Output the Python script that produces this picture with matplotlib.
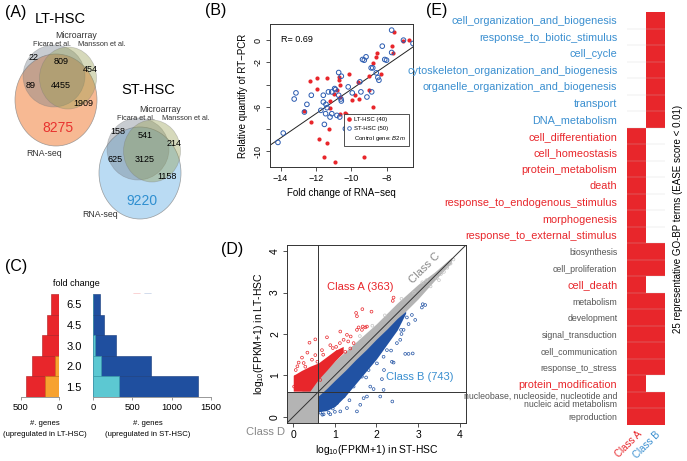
import numpy as np
import matplotlib
matplotlib.use("Agg")
import matplotlib.pyplot as plt
import matplotlib.patches as mpatches
from matplotlib.colors import ListedColormap
from matplotlib.lines import Line2D

plt.rcParams["font.family"] = ["Liberation Sans", "DejaVu Sans"]
plt.rcParams["mathtext.fontset"] = "custom"
plt.rcParams["mathtext.rm"] = "Liberation Sans"
plt.rcParams["mathtext.it"] = "Liberation Sans:italic"
plt.rcParams["mathtext.default"] = "regular"

W, H = 687, 461

RED = "#e8262b"
BLUE = "#1f4f9f"
ORANGE = "#f7a230"
CYAN = "#5cc8d2"
LBLUE = "#3a8fd0"
GRAYTXT = "#555555"

# ---- (A) Venn counts -------------------------------------------------------
LT_COUNTS = [22, 809, 454, 89, 4455, 1909, 8275]
ST_COUNTS = [158, 541, 214, 625, 3125, 1158, 9220]

# ---- (B) RT-PCR vs RNA-seq -------------------------------------------------
LT_FC = [-7.58, -7.71, -6.75, -7.08, -7.62, -8.55, -8.62, -8.33, -8.78, -8.97,
         -9.59, -9.55, -9.01, -8.74, -9.80, -9.98, -10.13, -10.71, -10.67, -10.65,
         -10.83, -10.62, -10.98, -11.39, -11.91, -12.32, -11.91, -12.30, -12.70, -11.20,
         -11.20, -10.62, -10.29, -10.33, -11.23, -11.83, -11.35, -11.54, -10.91, -9.26]
LT_RQ = [0.75, -0.54, 0.00, -0.06, -1.14, -1.14, -1.56, -3.00, -2.01, -3.24,
         -3.75, -5.32, -4.50, -6.01, -4.92, -5.41, -3.00, -3.30, -3.60, -4.02,
         -4.50, -5.11, -4.86, -3.36, -3.36, -3.66, -4.35, -7.36, -6.37, -5.47,
         -6.10, -6.61, -6.67, -6.55, -7.96, -8.86, -9.25, -10.51, -10.96, -10.51]
ST_FC = [-7.71, -7.04, -6.50, -8.24, -7.71, -8.10, -8.00, -9.16, -9.26, -9.36,
         -8.87, -8.78, -8.58, -8.49, -8.43, -9.51, -9.45, -8.84, -9.11, -9.94,
         -10.17, -10.71, -10.56, -10.94, -10.89, -10.71, -10.56, -10.58, -11.10, -11.29,
         -11.58, -11.58, -11.43, -11.37, -11.72, -11.45, -11.10, -10.81, -10.65, -11.20,
         -12.26, -13.13, -13.23, -12.51, -12.65, -11.52, -10.33, -10.17, -13.85, -14.15]
ST_RQ = [0.90, 0.00, -0.30, -0.54, -1.11, -1.74, -1.80, -1.50, -1.80, -1.74,
         -2.49, -2.49, -2.94, -3.36, -3.60, -3.75, -4.65, -4.65, -5.11, -4.74,
         -4.20, -2.91, -3.24, -4.35, -4.44, -4.95, -5.47, -5.29, -4.65, -4.65,
         -4.95, -5.56, -5.77, -6.07, -6.31, -6.61, -6.61, -6.76, -6.91, -6.91,
         -4.95, -4.74, -5.29, -5.77, -6.46, -7.57, -7.96, -8.26, -8.35, -9.19]
FIT_SLOPE, FIT_INTERCEPT = 1.09, 6.47
R_VALUE = 0.69

# ---- (C) fold change histogram ---------------------------------------------
FOLD = ["1.5", "2.0", "3.0", "4.5", "6.5"]
LT_RNASEQ = [435, 361, 230, 152, 100]
LT_ARRAY = [178, 48, 0, 0, 0]
ST_RNASEQ = [1333, 735, 290, 141, 85]
ST_ARRAY = [333, 107, 21, 0, 0]

# ---- (D) scatter envelopes and outliers -----------------------------------
GRAY_X = [-0.15, 0.2, 0.6, 0.62, 1.0, 1.5, 2.0, 2.5, 3.0, 3.4, 3.8]
GRAY_LO = [-0.15, -0.15, -0.15, 0.3, 0.75, 1.3, 1.8, 2.35, 2.85, 3.3, 3.72]
GRAY_HI = [0.6, 0.62, 0.95, 0.98, 1.35, 1.8, 2.25, 2.75, 3.2, 3.5, 3.85]
BLUE_X = [0.6, 0.8, 1.0, 1.25, 1.5, 1.75, 2.0, 2.25, 2.5, 2.7]
BLUE_LO = [0.12, 0.15, 0.25, 0.5, 0.8, 1.1, 1.4, 1.75, 2.1, 2.5]
BLUE_HI = [0.5, 0.68, 0.88, 1.12, 1.38, 1.62, 1.88, 2.12, 2.38, 2.55]
RED_X = [0.0, 0.2, 0.4, 0.6, 0.8, 1.0, 1.2]
RED_LO = [0.62, 0.62, 0.62, 0.9, 1.12, 1.35, 1.55]
RED_HI = [1.0, 1.12, 1.22, 1.3, 1.45, 1.6, 1.7]

A_PTS_X = [2.41, 2.39, 1.88, 1.66, 1.51, 1.53, 1.67, 1.73, 1.77, 1.65,
           0.53, 0.39, 0.81, 1.13, 1.29, 1.38, 1.45, 1.03, 0.89, 0.69,
           1.21, 1.06, 0.34, 0.21, 0.13, 0.06, 0.06, 0.17, 0.41, 0.65,
           0.81, 0.58, 0.53, 0.29, 0.89, 1.25, 1.37, 1.53, 1.57, 0.02, 0.13,
           0.25, 0.45, 0.1, 0.72, 0.95, 1.12, 1.32]
A_PTS_Y = [2.88, 2.80, 2.54, 2.60, 2.51, 2.43, 2.18, 2.16, 2.18, 2.10,
           1.87, 1.79, 1.92, 2.06, 1.98, 1.94, 1.78, 1.69, 1.73, 1.61,
           1.86, 1.57, 1.55, 1.43, 1.31, 1.13, 0.97, 0.85, 0.85, 0.89,
           1.25, 1.33, 1.49, 1.21, 1.41, 1.57, 1.65, 2.10, 2.16, 0.73, 0.69,
           1.3, 1.38, 1.22, 1.5, 1.66, 1.78, 1.82]
B_PTS_X = [3.11, 3.17, 3.09, 2.85, 2.93, 2.73, 2.77, 2.65, 2.59, 2.87,
           2.77, 2.69, 2.37, 2.41, 2.18, 2.13, 1.85, 1.93, 2.17, 2.38,
           1.77, 1.61, 1.29, 1.13, 0.89, 0.73, 0.65, 1.53, 1.69, 1.65,
           2.17, 2.49, 2.57, 2.25, 2.01, 1.81, 1.45, 1.21, 1.05, 2.09,
           0.7, 0.85, 1.0, 0.95, 1.35, 1.75, 2.35, 2.6]
B_PTS_Y = [2.72, 2.70, 2.64, 2.46, 2.34, 2.40, 2.24, 2.10, 2.10, 1.53,
           1.52, 1.52, 1.33, 1.31, 1.13, 0.91, 0.73, 0.67, 0.65, 0.37,
           0.49, 0.29, 0.21, 0.13, 0.06, 0.06, 0.10, 0.13, 0.45, 0.97,
           1.45, 1.78, 1.86, 1.61, 1.29, 1.13, 0.73, 0.49, 0.33, 0.49,
           0.05, 0.1, 0.12, 0.2, 0.4, 0.95, 1.6, 2.0]
C_PTS_X = [3.3, 3.45, 3.55, 3.62, 3.7, 3.78, 3.85, 3.5, 3.2, 3.1, 2.9, 2.6, 2.2, 1.9, 1.6]
C_PTS_Y = [3.15, 3.35, 3.45, 3.5, 3.6, 3.7, 3.8, 3.3, 3.3, 3.25, 3.0, 2.85, 2.45, 2.2, 1.95]

# ---- (E) GO terms ----------------------------------------------------------
GO_TERMS = ["cell_organization_and_biogenesis", "response_to_biotic_stimulus", "cell_cycle",
            "cytoskeleton_organization_and_biogenesis", "organelle_organization_and_biogenesis",
            "transport", "DNA_metabolism", "cell_differentiation", "cell_homeostasis",
            "protein_metabolism", "death", "response_to_endogenous_stimulus", "morphogenesis",
            "response_to_external_stimulus", "biosynthesis", "cell_proliferation", "cell_death",
            "metabolism", "development", "signal_transduction", "cell_communication",
            "response_to_stress", "protein_modification",
            "nucleobase, nucleoside, nucleotide and\nnucleic acid metabolism", "reproduction"]
CLASS_A = [0, 0, 0, 0, 0, 0, 0, 1, 1, 1, 1, 1, 1, 1, 1, 1, 1, 1, 1, 1, 1, 1, 1, 1, 1]
CLASS_B = [1, 1, 1, 1, 1, 1, 1, 0, 0, 0, 0, 0, 0, 0, 1, 1, 0, 1, 1, 1, 1, 1, 0, 1, 1]
TERM_GROUP = ["B"] * 7 + ["A"] * 7 + ["n", "n", "A", "n", "n", "n", "n", "n", "A", "n", "n"]


def px_axes(fig, l, t, r, b):
    return fig.add_axes([l / W, 1 - b / H, (r - l) / W, (b - t) / H])


def r_style(ax):
    for s in ax.spines.values():
        s.set_linewidth(0.7)
        s.set_color("#333333")
    ax.tick_params(length=3, width=0.6, color="#333333", labelsize=7, pad=2)


fig = plt.figure(figsize=(W / 100, H / 100), dpi=100)

# overlay in pixel coordinates for Venn diagrams and panel letters
ov = fig.add_axes([0, 0, 1, 1])
ov.set_xlim(0, W)
ov.set_ylim(H, 0)
ov.axis("off")

for lab, x, y in [("(A)", 5, 12), ("(B)", 205, 11), ("(C)", 5, 266),
                  ("(D)", 221, 249), ("(E)", 426, 11)]:
    ov.text(x, y, lab, fontsize=11.5, va="center", ha="left")

# ---- (A) -------------------------------------------------------------------
def venn(cx, cy, base_col, counts, big_col):
    ov.add_patch(mpatches.Ellipse((cx, cy + 22), 82, 92, fc=base_col, ec="#888888", lw=0.5, alpha=0.8))
    ov.add_patch(mpatches.Ellipse((cx - 2, cy - 2), 62, 62, fc="#6f7a86", ec="#777777", lw=0.5, alpha=0.38))
    ov.add_patch(mpatches.Ellipse((cx + 12, cy), 57, 62, fc="#949d4c", ec="#777777", lw=0.5, alpha=0.38))
    pos = [(-22, -20), (5, -16), (34, -8), (-25, 8), (5, 8), (27, 25)]
    for (dx, dy), n in zip(pos, counts[:6]):
        ov.text(cx + dx, cy + dy, str(n), fontsize=6.5, ha="center", va="center")
    ov.text(cx + 2, cy + 50, str(counts[6]), fontsize=10, color=big_col, ha="center", va="center")
    ov.text(cx + 20, cy - 42, "Microarray", fontsize=6.3, ha="center", va="center", color="#333333")
    ov.text(cx - 4, cy - 33, "Ficara et al.", fontsize=5.3, ha="center", va="center", color="#333333")
    ov.text(cx + 46, cy - 33, "Mansson et al.", fontsize=5.3, ha="center", va="center", color="#333333")


ov.text(60, 19, "LT-HSC", fontsize=10.5, ha="center", va="center")
venn(56, 78, "#f6a878", LT_COUNTS, "#e8332f")
ov.text(44, 153, "RNA-seq", fontsize=6.3, ha="center", va="center", color="#333333")
ov.text(148, 90, "ST-HSC", fontsize=10.5, ha="center", va="center")
venn(140, 151, "#a9d3f0", ST_COUNTS, "#2f8fd0")
ov.text(100, 214, "RNA-seq", fontsize=6.3, ha="center", va="center", color="#333333")

# ---- (B) -------------------------------------------------------------------
axb = px_axes(fig, 270, 24, 413, 167)
axb.scatter(LT_FC, LT_RQ, s=9, color=RED, lw=0, zorder=3)
axb.scatter(ST_FC, ST_RQ, s=11, facecolors="none", edgecolors="#2b5bb0", lw=0.7, zorder=3)
axb.axline((0, FIT_INTERCEPT), slope=FIT_SLOPE, color="#222222", lw=0.7)
axb.set_xlim(-14.6, -6.5)
axb.set_ylim(-11.4, 1.45)
axb.set_xticks([-14, -12, -10, -8])
axb.set_yticks([0, -2, -4, -6, -8, -10])
axb.set_yticklabels(["0", "-2", "", "-6", "", "-10"])
r_style(axb)
axb.tick_params(labelsize=6.5)
axb.tick_params(axis="y", labelrotation=90)
for t in axb.get_yticklabels():
    t.set_va("center")
axb.set_xlabel("Fold change of RNA\u2212seq", fontsize=7, labelpad=4)
axb.set_ylabel("Relative quantify of RT\u2212PCR", fontsize=7, labelpad=4)
axb.text(0.08, 0.89, f"R= {R_VALUE}", transform=axb.transAxes, fontsize=6.5, va="center")
hl = [Line2D([], [], ls="none", marker="o", ms=2.3, color=RED),
      Line2D([], [], ls="none", marker="o", ms=2.6, mfc="none", mec="#2b5bb0", mew=0.6),
      Line2D([], [], ls="none")]
leg = axb.legend(hl, ["LT-HSC (40)", "ST-HSC (50)", "Control gene: $\\it{B2m}$"],
                 loc="lower right", bbox_to_anchor=(0.97, 0.145), fontsize=4.3,
                 fancybox=False, edgecolor="#333333", framealpha=1, handlelength=0.6,
                 handletextpad=0.5, borderpad=0.5, labelspacing=0.6, borderaxespad=0)
leg.get_frame().set_linewidth(0.6)

# ---- (C) -------------------------------------------------------------------
ypos = np.arange(len(FOLD))
axl = px_axes(fig, 21, 294, 59, 397)
axl.barh(ypos, LT_RNASEQ, height=1.0, color=RED, edgecolor="#b01a1e", lw=0.4)
axl.barh(ypos, LT_ARRAY, height=1.0, color=ORANGE, edgecolor="#c07818", lw=0.4)
axl.set_xlim(500, 0)
axr = px_axes(fig, 93, 294, 211, 397)
axr.barh(ypos, ST_RNASEQ, height=1.0, color=BLUE, edgecolor="#15397a", lw=0.4)
axr.barh(ypos, ST_ARRAY, height=1.0, color=CYAN, edgecolor="#3aa0aa", lw=0.4)
axr.set_xlim(0, 1500)
for ax in (axl, axr):
    ax.set_ylim(-0.5, 4.5)
    for s in ("top", "left", "right"):
        ax.spines[s].set_visible(False)
    ax.spines["bottom"].set_color("#888888")
    ax.spines["bottom"].set_linewidth(0.6)
    ax.tick_params(axis="x", length=2.5, width=0.6, color="#888888", labelsize=6.8, pad=2)
axl.set_xticks([500, 0])
axl.set_yticks([])
axr.set_xticks([0, 500, 1000, 1500])
axr.set_yticks(ypos)
axr.set_yticklabels(FOLD, fontsize=8)
axr.tick_params(axis="y", length=0, pad=8)
ov.text(45, 423, "#. genes", fontsize=5.6, ha="center", va="center")
ov.text(45, 434, "(upregulated in LT-HSC)", fontsize=5.6, ha="center", va="center")
ov.text(148, 423, "#. genes", fontsize=5.6, ha="center", va="center")
ov.text(148, 434, "(upregulated in ST-HSC)", fontsize=5.6, ha="center", va="center")
ov.text(76, 283, "fold change", fontsize=6.5, ha="center", va="center")
for x0, col in [(133, RED), (144, BLUE)]:
    ov.add_patch(mpatches.Rectangle((x0, 294), 7, 7, color=col))
for x0, col in [(133, ORANGE), (144, CYAN)]:
    ov.add_patch(mpatches.Rectangle((x0, 309), 7, 7, color=col))
ov.text(156, 298, "RNA-seq", fontsize=5, va="center")
ov.text(156, 313, "Microarray", fontsize=5, va="center")
ov.text(156, 322.5, "(Forsberg et al.)", fontsize=5, va="center")

# ---- (D) -------------------------------------------------------------------
axd = px_axes(fig, 287, 245, 466, 423)
axd.fill_between(GRAY_X, GRAY_LO, GRAY_HI, color="#b4b4b4", lw=0)
axd.scatter(C_PTS_X, C_PTS_Y, s=4, facecolors="none", edgecolors="#c4c4c4", lw=0.5)
axd.fill_between(BLUE_X, BLUE_LO, BLUE_HI, color="#2152a3", lw=0)
axd.fill_between(RED_X, RED_LO, RED_HI, color="#e8262b", lw=0)
axd.scatter(A_PTS_X, A_PTS_Y, s=4, facecolors="none", edgecolors="#e8262b", lw=0.5)
axd.scatter(B_PTS_X, B_PTS_Y, s=4, facecolors="none", edgecolors="#2152a3", lw=0.5)
axd.axline((0, 0), slope=1, color="#333333", lw=0.7)
axd.axvline(0.6, color="#333333", lw=0.7)
axd.axhline(0.6, color="#333333", lw=0.7)
axd.set_xlim(-0.15, 4.15)
axd.set_ylim(-0.15, 4.15)
axd.set_xticks(range(5))
axd.set_yticks(range(5))
r_style(axd)
axd.tick_params(labelsize=7.5)
axd.tick_params(axis="y", labelrotation=90)
for t in axd.get_yticklabels():
    t.set_va("center")
axd.set_xlabel("log$_{10}$(FPKM+1) in ST-HSC", fontsize=7.5, labelpad=2)
axd.set_ylabel("log$_{10}$(FPKM+1) in LT-HSC", fontsize=7.5, labelpad=3)
axd.text(1.61, 3.13, "Class A (363)", color=RED, fontsize=8, ha="center", va="center")
axd.text(3.05, 0.96, "Class B (743)", color=LBLUE, fontsize=8, ha="center", va="center")
axd.text(3.17, 3.59, "Class C", color="#888888", fontsize=8, ha="center", va="center", rotation=45)
axd.text(-0.67, -0.36, "Class D", color="#888888", fontsize=8, ha="center", va="center", clip_on=False)

# ---- (E) -------------------------------------------------------------------
axe = px_axes(fig, 627, 12, 665, 425)
mat = np.array([CLASS_A, CLASS_B]).T
axe.pcolormesh(mat, cmap=ListedColormap(["white", RED]), edgecolors="face", lw=0)
axe.hlines(np.arange(1, len(GO_TERMS)), 0, 2, color="#c8c8c8", lw=0.35, alpha=0.6)
axe.set_xlim(0, 2)
axe.set_ylim(len(GO_TERMS), 0)
for s in axe.spines.values():
    s.set_visible(False)
axe.set_yticks(np.arange(len(GO_TERMS)) + 0.5)
axe.set_yticklabels(GO_TERMS)
axe.tick_params(axis="y", length=0, pad=7)
for t, g in zip(axe.get_yticklabels(), TERM_GROUP):
    if g == "A":
        t.set_color(RED)
        t.set_fontsize(7.8)
    elif g == "B":
        t.set_color(LBLUE)
        t.set_fontsize(7.8)
    else:
        t.set_color(GRAYTXT)
        t.set_fontsize(6.3)
        t.set_linespacing(0.85)
axe.set_xticks([0.5, 1.5])
axe.set_xticklabels(["Class A", "Class B"], rotation=45, ha="right", rotation_mode="anchor", fontsize=7)
axe.tick_params(axis="x", length=0, pad=3)
for t, c in zip(axe.get_xticklabels(), [RED, LBLUE]):
    t.set_color(c)
axe.yaxis.set_label_position("right")
axe.set_ylabel("25 representative GO-BP terms (EASE score < 0.01)", fontsize=7, labelpad=6)

fig.savefig("out.png", dpi=100)
